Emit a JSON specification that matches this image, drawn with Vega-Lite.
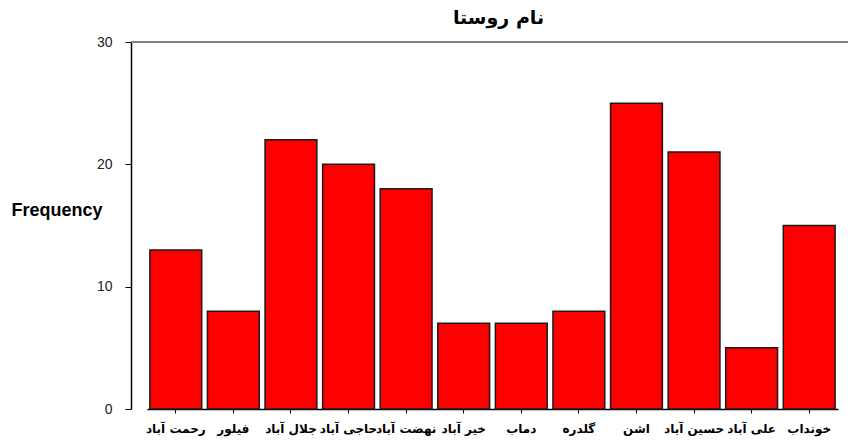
{
  "$schema": "https://vega.github.io/schema/vega-lite/v6.json",
  "autosize": {"type": "none"},
  "padding": {"left": 131, "top": 42, "right": 0, "bottom": 32},
  "width": 717,
  "height": 367,
  "background": "white",
  "title": {"text": "نام روستا", "font": "DejaVu Sans", "fontSize": 19, "fontWeight": "bold", "color": "#000", "anchor": "middle", "frame": "group", "dx": 9, "offset": -8, "baseline": "alphabetic"},
  "config": {"view": {"stroke": null}},
  "data": {"values": [
    {"village": "رحمت آباد", "count": 13},
    {"village": "فیلور", "count": 8},
    {"village": "جلال آباد", "count": 22},
    {"village": "حاجی آباد", "count": 20},
    {"village": "نهضت آباد", "count": 18},
    {"village": "خیر آباد", "count": 7},
    {"village": "دماب", "count": 7},
    {"village": "گلدره", "count": 8},
    {"village": "اشن", "count": 25},
    {"village": "حسین آباد", "count": 21},
    {"village": "علی آباد", "count": 5},
    {"village": "خونداب", "count": 15}
  ]},
  "layer": [
    {
      "mark": {"type": "bar", "fill": "#FF0000", "stroke": "#1a1a1a", "strokeWidth": 1.5},
      "encoding": {
        "x": {"field": "village", "type": "nominal", "sort": null,
              "scale": {"range": [16, 707], "paddingInner": 0.1, "paddingOuter": 0.05},
              "axis": {"title": null, "labelAngle": 0, "labelFont": "DejaVu Sans", "labelFontSize": 12, "labelFontWeight": "bold", "labelColor": "#000", "tickColor": "#000", "tickSize": 4, "labelPadding": 10, "domainColor": "#000", "domainWidth": 1.5, "labelOverlap": false}},
        "y": {"field": "count", "type": "quantitative",
              "scale": {"domain": [0, 30], "nice": false},
              "axis": {"values": [0, 10, 20, 30], "grid": false, "title": "Frequency", "titleAngle": 0, "titleAlign": "right", "titleBaseline": "middle", "titleX": -29, "titleY": 168, "titleFont": "Liberation Sans", "titleFontSize": 18, "titleFontWeight": "bold", "titleColor": "#000", "labelFont": "Liberation Sans", "labelFontSize": 14, "labelColor": "#222", "labelPadding": 13, "tickSize": 6, "tickColor": "#000", "domainColor": "#000", "domainWidth": 1.5}}
      }
    },
    {
      "mark": {"type": "rule", "color": "#808080", "strokeWidth": 2},
      "encoding": {"y": {"datum": 30}}
    }
  ]
}
